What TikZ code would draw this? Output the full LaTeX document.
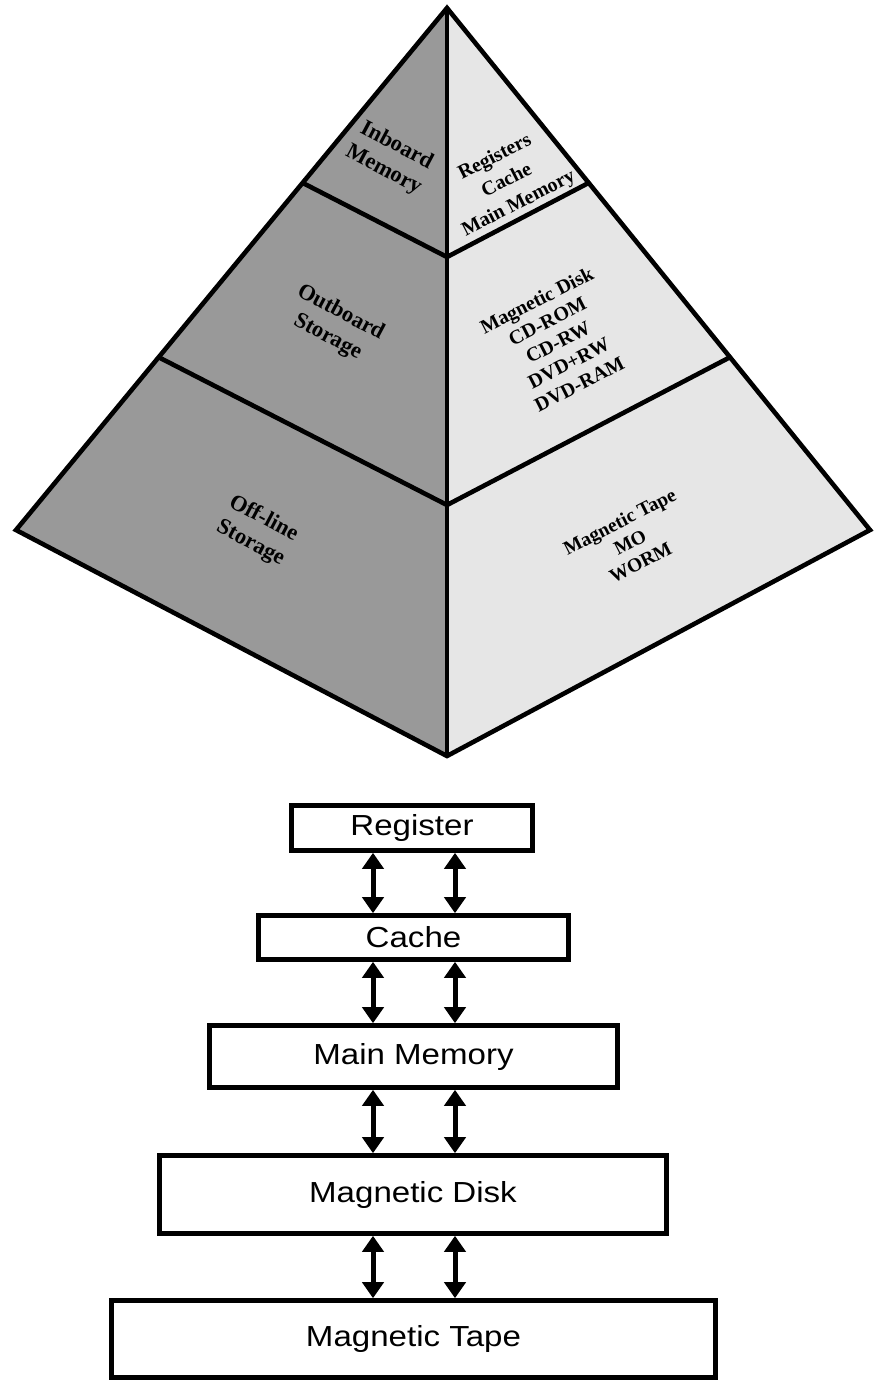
\documentclass[tikz,border=0pt]{standalone}
\usepackage{fontspec}
\setmainfont{Liberation Serif}
\newfontfamily\boxfont{Liberation Sans}
\usetikzlibrary{arrows.meta,calc}
\definecolor{darkface}{HTML}{999999}
\definecolor{lightface}{HTML}{E6E6E6}
\begin{document}
\begin{tikzpicture}[x=1pt,y=-1pt,
  pyr/.style={line width=4.6pt, line join=miter},
  lbl/.style={font=\bfseries\fontsize{22.5}{27.5}\selectfont, align=center, inner sep=0pt, rotate=-28},
  rbl/.style={align=center, inner sep=0pt, rotate=27},
  membox/.style={draw, line width=4.6pt, rectangle, inner sep=0pt, fill=white, font=\boxfont\fontsize{29}{34}\selectfont},
  dbl/.style={line width=5pt, {Triangle[width=21pt,length=16pt]}-{Triangle[width=21pt,length=16pt]}}
]
\useasboundingbox (0,0) rectangle (874,1383);
% pyramid corners
\coordinate (A) at (447,8);
\coordinate (L) at (16,530);
\coordinate (R) at (870,530);
\coordinate (B) at (447,756);
\coordinate (C1) at (447,257);
\coordinate (C2) at (447,505);
\coordinate (P1L) at ($(A)!0.335!(L)$);
\coordinate (P2L) at ($(A)!0.669!(L)$);
\coordinate (P1R) at ($(A)!0.335!(R)$);
\coordinate (P2R) at ($(A)!0.669!(R)$);
\fill[darkface] (A) -- (L) -- (B) -- cycle;
\fill[lightface] (A) -- (R) -- (B) -- cycle;
\draw[pyr] (A) -- (L) -- (B) -- (R) -- cycle;
\draw[pyr] (A) -- (B);
\draw[pyr] (P1L) -- (C1) -- (P1R);
\draw[pyr] (P2L) -- (C2) -- (P2R);
% pyramid labels
\node[lbl] (inb) at (390,158) {Inboard\\Memory};
\node[lbl] (outb) at (334,325) {Outboard\\Storage};
\node[lbl] (offl) at (257,531) {Off-line\\Storage};
\node[rbl, font=\bfseries\fontsize{20}{26}\selectfont] (regs) at (507,181) {Registers\\Cache\\Main Memory};
\node[rbl, font=\bfseries\fontsize{20}{23.5}\selectfont] (disk) at (558,342) {Magnetic Disk\\CD-ROM\\CD-RW\\DVD+RW\\DVD-RAM};
\node[rbl, font=\bfseries\fontsize{19.5}{23}\selectfont] (tape) at (630,542) {Magnetic Tape\\MO\\WORM};
% memory hierarchy boxes
\node[membox, minimum width=241pt, minimum height=45pt] (reg) at (412,828) {\scalebox{1.14}[1]{Register}};
\node[membox, minimum width=310pt, minimum height=44pt] (cache) at (413.5,937.5) {\scalebox{1.14}[1]{Cache}};
\node[membox, minimum width=408pt, minimum height=62pt] (mainm) at (413.5,1056.5) {\scalebox{1.14}[1]{Main Memory}};
\node[membox, minimum width=507pt, minimum height=78pt] (mdisk) at (413,1194.5) {\scalebox{1.14}[1]{Magnetic Disk}};
\node[membox, minimum width=604pt, minimum height=77pt] (mtape) at (413.5,1339) {\scalebox{1.14}[1]{Magnetic Tape}};
% arrows
\coordinate (xa) at (373,0);
\coordinate (xb) at (455,0);
\draw[dbl] (reg.south -| xa) -- (cache.north -| xa);
\draw[dbl] (reg.south -| xb) -- (cache.north -| xb);
\draw[dbl] (cache.south -| xa) -- (mainm.north -| xa);
\draw[dbl] (cache.south -| xb) -- (mainm.north -| xb);
\draw[dbl] (mainm.south -| xa) -- (mdisk.north -| xa);
\draw[dbl] (mainm.south -| xb) -- (mdisk.north -| xb);
\draw[dbl] (mdisk.south -| xa) -- (mtape.north -| xa);
\draw[dbl] (mdisk.south -| xb) -- (mtape.north -| xb);
\end{tikzpicture}
\end{document}
